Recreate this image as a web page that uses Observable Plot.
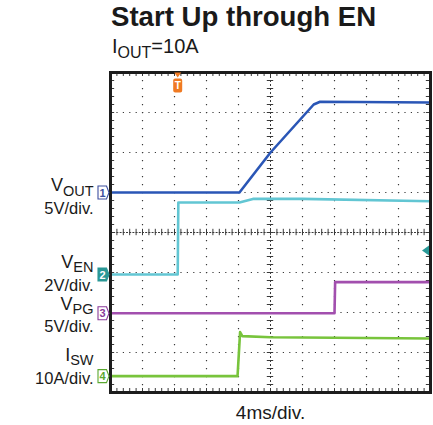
<!DOCTYPE html>
<html>
<head>
<meta charset="utf-8">
<script src="https://cdn.jsdelivr.net/npm/d3@7"></script>
<script src="https://cdn.jsdelivr.net/npm/@observablehq/plot@0.6"></script>
<style>
  html, body { margin: 0; padding: 0; background: #fff; }
  body { width: 433px; height: 425px; overflow: hidden; font-family: "Liberation Sans", Arial, sans-serif; color: #1a1a1a; }
  #head { position: relative; height: 60px; }
  #title { position: absolute; left: 111px; top: 3px; font-size: 27.6px; line-height: 27.6px; font-weight: bold; white-space: nowrap; }
  #subtitle { position: absolute; left: 112px; top: 36px; font-size: 20px; line-height: 20px; white-space: nowrap; }
  #subtitle sub { font-size: 16px; vertical-align: baseline; position: relative; top: 5px; }
  #chart svg { display: block; overflow: visible; }
</style>
</head>
<body>
<div id="head">
  <div id="title">Start Up through EN</div>
  <div id="subtitle">I<sub>OUT</sub>=10A</div>
</div>
<div id="chart"></div>
<script>
// ---- data (screen divisions: x 0..10, y 0..8) ----
const timeLabel = "4ms/div.";
const channelNums = ["1", "2", "3", "4"];
const channelMain = ["V", "V", "V", "I"];
const channelSub = ["OUT", "EN", "PG", "SW"];
const channelScale = ["5V/div.", "2V/div.", "5V/div.", "10A/div."];
const channelGround = [5.0, 2.95, 1.98, 0.41];

const voutT = [0, 4.03, 5.0, 6.35, 6.55, 10];
const voutV = [5.0, 5.0, 6.0, 7.2, 7.27, 7.25];
const venT = [0, 2.1, 2.12, 4.03, 4.45, 6.0, 10];
const venV = [2.95, 2.95, 4.75, 4.75, 4.84, 4.84, 4.78];
const vpgT = [0, 7.0, 7.02, 10];
const vpgV = [1.98, 1.98, 2.76, 2.76];
const iswT = [0, 3.97, 4.05, 4.12, 5.0, 10];
const iswV = [0.41, 0.41, 1.51, 1.41, 1.38, 1.35];

const triggerTime = [2.1];
const triggerLevel = [3.55];

const xDivs = [0, 1, 2, 3, 4, 5, 6, 7, 8, 9, 10];
const yDivs = [0, 1, 2, 3, 4, 5, 6, 7, 8];

// ---- styling ----
const colors = ["#2a56b6", "#62c6d3", "#a24fae", "#78c43c"];
const boxFill = ["#ffffff", "#2a9896", "#ffffff", "#ffffff"];
const boxText = ["#3c4fa0", "#ffffff", "#8a3a9a", "#5aa830"];
const boxStroke = ["#3c4fa0", "#2a9896", "#8a3a9a", "#5aa830"];
const mainDy = [-2, -7, -3, -15];
const subDy = [5, 4, 4, 4];
const scaleDy = [21, 16, 19, 8];

const traces = [[voutT, voutV], [venT, venV], [vpgT, vpgV], [iswT, iswV]]
  .map(([t, v], k) => t.map((x, i) => ({x, y: v[i], ch: k})));

const channels = channelNums.map((n, i) => ({
  num: n, main: channelMain[i], sub: channelSub[i], scale: channelScale[i], ground: channelGround[i], i
}));

const minorX = d3.range(0, 10.0001, 0.2);
const minorY = d3.range(0, 8.0001, 0.2);
const xMin = d3.min(xDivs), xMax = d3.max(xDivs), yMin = d3.min(yDivs), yMax = d3.max(yDivs);
const xCenter = (xMin + xMax) / 2, yCenter = (yMin + yMax) / 2;
const innerX = xDivs.filter(d => d !== xMin && d !== xMax && d !== xCenter);
const innerY = yDivs.filter(d => d !== yMin && d !== yMax && d !== yCenter);

const tagSymbol = {draw(c) { c.moveTo(-5.5, -6.5); c.lineTo(3, -6.5); c.lineTo(5.5, 0); c.lineTo(3, 6.5); c.lineTo(-5.5, 6.5); c.closePath(); }};
const trigSymbol = {draw(c) {
  c.moveTo(-3.5, -13); c.lineTo(3.5, -13); c.lineTo(0, -8); c.closePath();
  c.moveTo(-4.5, -5); c.arcTo(-4.5, -7, -2.5, -7, 2); c.lineTo(2.5, -7); c.arcTo(4.5, -7, 4.5, -5, 2);
  c.lineTo(4.5, 5); c.arcTo(4.5, 7, 2.5, 7, 2); c.lineTo(-2.5, 7); c.arcTo(-4.5, 7, -4.5, 5, 2); c.closePath();
}};
const leftTri = {draw(c) { c.moveTo(-4.5, 0); c.lineTo(2.5, -5); c.lineTo(2.5, 5); c.closePath(); }};

const gridColor = "#3a3a3a";

const marks = [
  // dotted grid
  Plot.ruleX(innerX, {stroke: gridColor, strokeWidth: 1.2, strokeDasharray: "1.2,6.8"}),
  Plot.ruleY(innerY, {stroke: gridColor, strokeWidth: 1.2, strokeDasharray: "1.2,5.2"}),
  // center cross
  Plot.ruleX([xCenter], {stroke: gridColor, strokeWidth: 1, strokeDasharray: "2,2"}),
  Plot.ruleY([yCenter], {stroke: gridColor, strokeWidth: 1, strokeDasharray: "2,1.2"}),
  Plot.ruleY(minorY, {y: d => d, x1: xCenter - 0.1, x2: xCenter + 0.1, stroke: gridColor, strokeWidth: 1}),
  Plot.ruleX(minorX, {x: d => d, y1: yCenter - 0.08, y2: yCenter + 0.08, stroke: gridColor, strokeWidth: 1}),
  // edge ticks
  Plot.ruleX(minorX, {x: d => d, y1: yMax, y2: yMax - 0.1, stroke: gridColor, strokeWidth: 1}),
  Plot.ruleX(minorX, {x: d => d, y1: yMin, y2: yMin + 0.1, stroke: gridColor, strokeWidth: 1}),
  Plot.ruleY(minorY, {y: d => d, x1: xMin, x2: xMin + 0.13, stroke: gridColor, strokeWidth: 1}),
  Plot.ruleY(minorY, {y: d => d, x1: xMax, x2: xMax - 0.13, stroke: gridColor, strokeWidth: 1}),
  // traces
  ...traces.map((tr, k) => Plot.line(tr, {x: "x", y: "y", stroke: colors[k], strokeWidth: 2.6, curve: "linear"})),
  // frame
  Plot.frame({stroke: "#1c1c1c", strokeWidth: 3}),
  // channel markers
  ...channels.map((c, k) => Plot.dot([c], {x: xMin, y: "ground", symbol: tagSymbol, r: 6, dx: -7,
      fill: boxFill[k], stroke: boxStroke[k], strokeWidth: 1.1})),
  ...channels.map((c, k) => Plot.text([c], {x: xMin, y: "ground", text: "num", dx: -8, dy: 0.5,
      fill: boxText[k], fontSize: 11, fontWeight: "bold"})),
  // channel labels
  ...channels.map((c, k) => Plot.text([c], {x: xMin, y: "ground", text: d => d.main + "|" + d.sub + "|" + subDy[k],
      dx: -17, dy: mainDy[k], textAnchor: "end", lineAnchor: "bottom", fontSize: 18, fill: "#1a1a1a"})),
  ...channels.map((c, k) => Plot.text([c], {x: xMin, y: "ground", text: "scale",
      dx: -17, dy: scaleDy[k], textAnchor: "end", lineAnchor: "bottom", fontSize: 16.5, fill: "#1a1a1a"})),
  // trigger position marker
  Plot.dot(triggerTime, {x: d => d, y: yMax, symbol: trigSymbol, r: 6, dy: 13, fill: "#f07a22", stroke: "none"}),
  Plot.text(triggerTime, {x: d => d, y: yMax, text: () => "T", dy: 13.5, fill: "#fff", fontSize: 10, fontWeight: "bold"}),
  // trigger level marker
  Plot.dot(triggerLevel, {x: xMax, y: d => d, symbol: leftTri, r: 5, dx: -4, fill: "#2a9a98", stroke: "none"}),
  // time base label
  Plot.text([timeLabel], {frameAnchor: "bottom", text: d => d, dy: 26, lineAnchor: "bottom", fontSize: 19, fill: "#1a1a1a"})
];

const plot = Plot.plot({
  width: 433,
  height: 365,
  marginLeft: 110,
  marginRight: 3,
  marginTop: 12,
  marginBottom: 33,
  x: {domain: [xMin, xMax], axis: null},
  y: {domain: [yMin, yMax], axis: null},
  style: {fontFamily: "'Liberation Sans', Arial, sans-serif", background: "#fff", overflow: "visible"},
  marks
});

// subscripts: "V|OUT|5" -> V<tspan>OUT</tspan>
plot.querySelectorAll("text").forEach(t => {
  const s = t.textContent;
  if (s.includes("|")) {
    const [main, sub, dy] = s.split("|");
    t.textContent = main;
    const ts = document.createElementNS("http://www.w3.org/2000/svg", "tspan");
    ts.setAttribute("dy", dy);
    ts.setAttribute("font-size", "14.5");
    ts.textContent = sub;
    t.appendChild(ts);
  }
});

document.getElementById("chart").appendChild(plot);
</script>
</body>
</html>
